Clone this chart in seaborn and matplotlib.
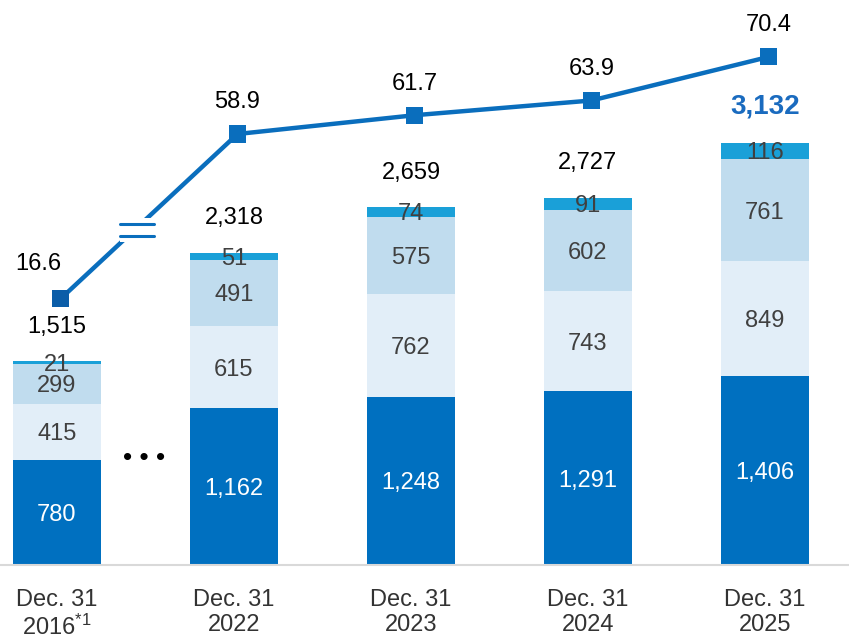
import numpy as np
import pandas as pd
import matplotlib
matplotlib.use("Agg")
import matplotlib.pyplot as plt
from matplotlib.patches import Rectangle
from matplotlib.lines import Line2D
import seaborn as sns

# ── Data ──────────────────────────────────────────────────────────────────────
periods   = ["2016", "2022", "2023", "2024", "2025"]
tick_text = ["Dec. 31\n2016$^{*1}$", "Dec. 31\n2022", "Dec. 31\n2023",
             "Dec. 31\n2024", "Dec. 31\n2025"]
seg_base  = [780, 1162, 1248, 1291, 1406]
seg_light = [415, 615, 762, 743, 849]
seg_mid   = [299, 491, 575, 602, 761]
seg_top   = [21, 51, 74, 91, 116]
totals    = [1515, 2318, 2659, 2727, 3132]
ratio     = [16.6, 58.9, 61.7, 63.9, 70.4]

C_BASE  = "#0070C0"
C_LIGHT = "#E2EEF8"
C_MID   = "#C0DCEE"
C_TOP   = "#1AA0D8"
C_LINE  = "#0A6EBD"
C_TEXT  = "#404040"
FS = 17

sns.set_theme(style="white")
plt.rcParams["font.family"] = ["Liberation Sans", "DejaVu Sans"]
plt.rcParams["mathtext.fontset"] = "custom"
plt.rcParams["mathtext.rm"] = "Liberation Sans"
plt.rcParams["mathtext.it"] = "Liberation Sans"

fig = plt.figure(figsize=(8.49, 6.38), dpi=100)
ax = fig.add_axes([0, 73 / 638, 1, 565 / 638])

# ── Stacked bars (cumulative overlay) ─────────────────────────────────────────
layers = [seg_base, seg_light, seg_mid, seg_top]
colors = [C_BASE, C_LIGHT, C_MID, C_TOP]
cum = np.cumsum(np.array(layers), axis=0)
for level in range(len(layers) - 1, -1, -1):
    df = pd.DataFrame({"period": periods, "value": cum[level]})
    sns.barplot(data=df, x="period", y="value", color=colors[level],
                width=0.5, saturation=1, linewidth=0, errorbar=None, ax=ax)

# segment labels
for i in range(len(periods)):
    bottom = 0
    for level, seg in enumerate(layers):
        v = seg[i]
        ax.text(i, bottom + v / 2, f"{v:,}", ha="center", va="center_baseline",
                fontsize=FS, color="white" if level == 0 else C_TEXT, zorder=4)
        bottom += v

# totals above bars
for i, t in enumerate(totals):
    last = i == len(totals) - 1
    ax.annotate(f"{t:,}", (i, cum[-1][i]), xytext=(0, 28.5 if last else 26.5),
                textcoords="offset points",
                ha="center", va="center_baseline",
                fontsize=20 if last else FS,
                fontweight="bold" if last else "normal",
                color="#1A6BBF" if last else "black")

ax.text(0.49, 0.19, "• • •", transform=ax.get_xaxis_transform(),
        ha="center", va="center", fontsize=19, color="black")

ax.set_xlim(-0.322, 4.475)
ax.set_ylim(0, 4195)
ax.set_xticks(range(len(periods)))
ax.set_xticklabels(tick_text, fontsize=FS, color="#333333", linespacing=1.18)
ax.tick_params(axis="x", length=0, pad=17)
ax.set_yticks([])
ax.set_xlabel("")
ax.set_ylabel("")
sns.despine(ax=ax, left=True)
ax.spines["bottom"].set_color("#D9D9D9")
ax.spines["bottom"].set_linewidth(1.5)

# ── Ratio line on a broken secondary axis ─────────────────────────────────────
BRK, K = 50.0, 0.47


def fwd(v):
    v = np.asarray(v, dtype=float)
    return np.where(v >= BRK, v, BRK - (BRK - v) * K)


def inv(t):
    t = np.asarray(t, dtype=float)
    return np.where(t >= BRK, t, BRK - (BRK - t) / K)


ax2 = ax.twinx()
ax2.set_yscale("function", functions=(fwd, inv))
ax2.set_ylim(float(inv(-5.43)), 78.9)
ax2.set_xlim(ax.get_xlim())
xs = np.arange(len(ratio)) + 0.02
ax2.plot(xs, ratio, color=C_LINE, lw=3.2, zorder=3)
ax2.scatter(xs, ratio, marker="s", s=150,
            c=["#0B5DA8"] + [C_LINE] * (len(ratio) - 1), zorder=4, linewidths=0)
for i, r in enumerate(ratio):
    off = (-16, 26.5) if i == 0 else (0, 24.5)
    ax2.annotate(f"{r}", (xs[i], r), xytext=off, textcoords="offset points",
                 ha="center", va="center_baseline", fontsize=FS, color="black")
ax2.set_yticks([])
ax2.set_ylabel("")
for s in ax2.spines.values():
    s.set_visible(False)

# axis break marker on the first segment
p0 = ax2.transData.transform((xs[0], ratio[0]))
p1 = ax2.transData.transform((xs[1], ratio[1]))
c = p0 + 0.43 * (p1 - p0)
c[1] -= 2
to_fig = fig.transFigure.inverted()
W, H = 849.0, 638.0
cx, cy = to_fig.transform(c)
ax2.add_patch(Rectangle((cx - 17 / W, cy - 12 / H), 34 / W, 24 / H,
                        transform=fig.transFigure, facecolor="white",
                        edgecolor="none", zorder=5, clip_on=False))
for dy in (-6, 6):
    ax2.add_line(Line2D([cx - 17 / W, cx + 17 / W], [cy + dy / H, cy + dy / H],
                        transform=fig.transFigure, color=C_LINE, lw=2.2,
                        zorder=6, clip_on=False))

fig.savefig("out.png", dpi=100)
